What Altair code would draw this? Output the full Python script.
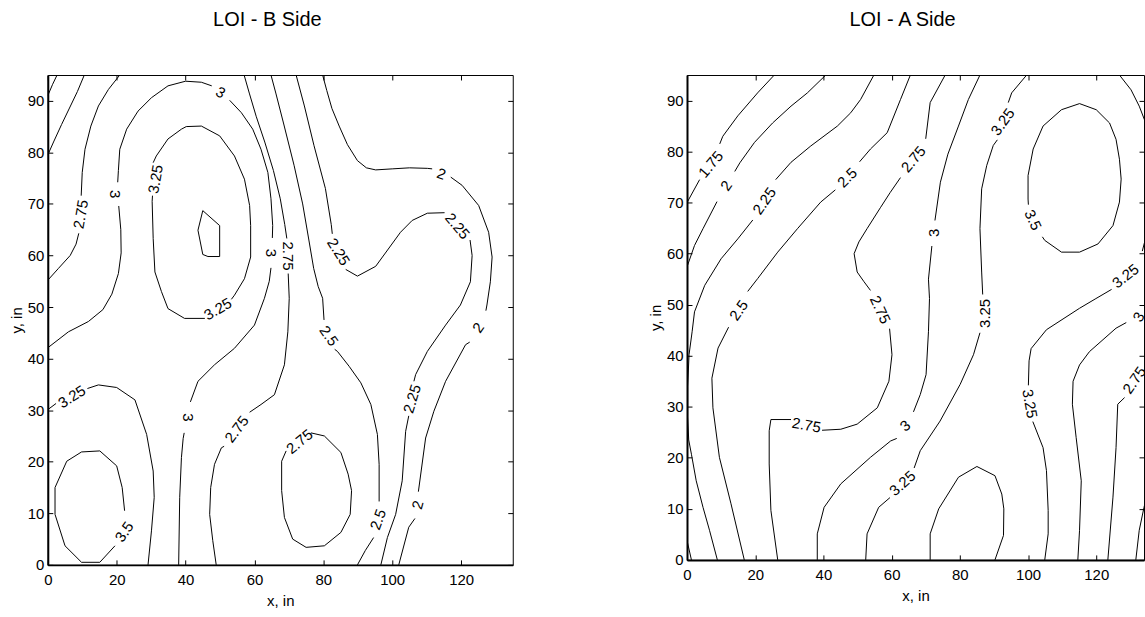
import altair as alt
import pandas as pd

FONT = "Liberation Sans"

X_TICKS = [0, 20, 40, 60, 80, 100, 120]
Y_TICKS = [0, 10, 20, 30, 40, 50, 60, 70, 80, 90]

# ---------------- LOI - B Side : contour polylines (x, y in inches) ----------------
B_c225_corner = [[(0, 91), (1.4, 93.2), (2.7, 95)]]
B_c250_left = [[(10.6, 95), (8.6, 91.8), (6.3, 88.6), (4.0, 85.4), (1.8, 82.2), (0, 79.5)]]
B_c275_left = [[(20.9, 95), (17.6, 92.2), (14.7, 89), (12.5, 85.1), (10.8, 80.6), (10.0, 76.1), (9.7, 71.6)],
                [(9.0, 64.3), (8.2, 62.2), (6.5, 60.0), (3.1, 57.5), (0, 55.2)]]
B_c300 = [[(0, 42.1), (6, 45.2), (11.8, 47.2), (16, 49.5), (18.6, 52.5), (20.5, 56.5), (21.3, 60.5), (21.2, 65), (20.6, 69.6)],
          [(20.3, 74.2), (20.5, 76.5), (20.9, 80.6), (22.9, 84.5), (26.2, 88), (30.1, 90.6), (34.9, 92.9), (40, 93.8), (44.6, 93.6), (47.6, 92.9)],
          [(52.8, 90.1), (56.2, 87.7), (59.5, 84.5), (61.9, 80.6), (63.9, 76.1), (64.8, 71), (65.3, 65.8), (65.2, 63.4)],
          [(64.8, 57.6), (64.3, 55), (62.9, 51.7), (60, 46.5), (54.2, 42), (48.4, 38.8), (43.6, 35.6), (41.4, 31.6)],
          [(39.6, 25.6), (39.3, 24.5), (38.8, 20.8), (38.3, 13.1), (38, 0)]]
B_c325_oval = [[(30.6, 78), (31.5, 79.3), (34.9, 82.6), (38.8, 84.5), (40.2, 85), (44.6, 85.1), (49.9, 83.2), (54.2, 79.3),
                (57.1, 74.8), (58.6, 69.7), (58.9, 65.8), (58.9, 59.7), (57.1, 55.5), (54.2, 52.3), (53.3, 51.5)],
               [(45.6, 47.8), (39.7, 47.8), (34.9, 49.7), (33, 53), (31.1, 56.8), (30.6, 63.3), (30.3, 70.5), (30.4, 71.6)]]
B_c350_peak = [[(45, 68.7), (49.9, 65.8), (49.9, 59.8), (46.5, 59.8), (45, 60.2), (43.6, 64.9), (45, 68.7)]]
B_c275_right = [[(57, 95), (58.5, 91.5), (60.5, 87), (63, 82), (65.5, 76.5), (67.5, 71), (68.8, 66), (69.4, 63.3)],
                [(69.8, 56.5), (70.1, 51.7), (69.7, 45.2), (68.7, 38.8), (65.8, 33), (61.9, 31.1), (58.6, 29.6)],
                [(51.2, 23.0), (50.4, 22.7), (48.4, 19.5), (47.3, 15), (47, 9.8), (47.9, 4.7), (48.9, 0)]]
B_c250_right = [[(64.8, 95), (66.2, 91.5), (68.5, 85.5), (71.5, 77.5), (74, 70), (75.8, 63), (77.2, 57.5), (78.5, 54), (79.8, 51.7), (80.2, 47.5)],
                [(83.3, 41.8), (84.1, 41.4), (87.5, 38.5), (90.9, 35.3), (93.8, 31.1), (95.7, 25.3), (96.2, 19.5), (96.2, 12.3)],
                [(94.6, 5.3), (92.2, 2.8), (89.9, 0)]]
B_c225_right = [[(72.1, 95), (74.5, 89), (77.3, 81.3), (80.6, 73), (82.3, 66), (82.6, 64.2)],
                [(86.5, 57.3), (89.9, 56), (95.2, 57.9), (102.4, 64.5), (105.8, 66.8), (110.2, 68.2), (115.2, 68.3)],
                [(122.6, 63), (123.2, 60), (122.7, 54.9), (119.8, 50.4), (115.5, 46.5), (110.2, 41.4), (106.8, 36.9), (106.3, 35.6)],
                [(104.8, 28.9), (103.9, 25.9), (102.9, 16.3), (101, 9.8), (98.6, 5.3), (96.7, 0)]]
B_c200 = [[(79.8, 95), (81, 92), (82.5, 88.5), (84.6, 85.1), (87, 81.5), (89.9, 78.4), (92.5, 77), (95.2, 76.6), (100, 76.8), (105, 77), (110.2, 76.9), (111.6, 76.8)],
          [(117, 75.2), (120.3, 73.6), (125.1, 69.7), (128, 64.5), (129, 59.7), (128.5, 54.9), (127.5, 50.4), (127.2, 49.3)],
          [(122.5, 43.2), (121.3, 42.7), (115.5, 35.6), (112.1, 29.8), (109.7, 24.6), (107.6, 14.2)],
          [(106.6, 9.0), (104.8, 7.3), (101.9, 0)]]
B_c275_oval = [[(76.4, 25.6), (80.3, 25), (85.1, 21.8), (87.2, 17.6), (88.2, 14.4), (87.8, 9.8), (85.1, 6.3), (80.3, 3.7),
                (75, 3.4), (71.1, 5), (68.7, 9.2), (67.9, 14.4), (67.9, 20.1), (69.2, 22.1)]]
B_c350_bl = [[(19.5, 3.7), (15.1, 0.5), (9.8, 0.5), (5, 3.7), (2.1, 9.8), (2.1, 15), (5.5, 20.1), (9.8, 21.9), (15.1, 22.1),
              (20, 19.2), (21.6, 15), (22.3, 10.5)]]
B_c325_bl = [[(0, 30.1), (2.4, 31.3)],
             [(11.5, 34.2), (14.7, 34.9), (20, 34.4), (25.3, 32), (28.7, 25.3), (30.6, 18.2), (30.9, 13.1), (30.1, 6.6), (29.1, 0)]]

B_contours = [B_c225_corner, B_c250_left, B_c275_left, B_c300, B_c325_oval, B_c350_peak, B_c275_right,
              B_c250_right, B_c225_right, B_c200, B_c275_oval, B_c350_bl, B_c325_bl]

B_label_text = ["2.75", "3", "3.25", "3", "3.25", "3", "2.75", "2.25", "2", "2.25", "2", "2.5",
                "2.25", "2.5", "2", "2.75", "2.75", "3", "3.5", "3.25"]
B_label_x = [9.6, 19.6, 31.3, 50.2, 49.4, 64.9, 69.7, 84.4, 114.3, 118.9, 125.0, 81.6,
             105.8, 95.9, 107.4, 73.1, 54.9, 40.6, 22.2, 7.0]
B_label_y = [68.0, 71.9, 74.8, 91.6, 49.6, 60.5, 59.9, 60.7, 75.8, 65.7, 46.0, 44.4,
             32.2, 8.8, 11.6, 23.9, 26.3, 28.6, 6.4, 32.6]
B_label_angle = [280, 90, 280, 30, 330, 90, 90, 58, 20, 50, 305, 55,
                 287, 290, 285, 321, 307, 90, 305, 328]

# ---------------- LOI - A Side : contour polylines ----------------
A_c175 = [[(25.6, 95), (20.7, 91.5), (14.9, 87), (10.5, 83), (9.6, 81.5)],
          [(3.7, 74.5), (0, 70)]]
A_c200 = [[(40.7, 95), (35.3, 91.5), (30.5, 88.9), (25.1, 85.6), (19.8, 81.8), (15.5, 77.8), (14, 76.1)],
          [(8.8, 70.2), (4.7, 64.9), (2.2, 61.6), (0, 57.4)]]
A_c200_corner = [[(0, 3.8), (1.3, 0)]]
A_c225 = [[(54.8, 95), (50.9, 90.2), (48, 87.6), (44.1, 85), (36.3, 81.1), (30.5, 77.9), (26, 74.5)],
          [(19.3, 66.6), (14.9, 62.9), (10, 59), (5.2, 53.8), (2.2, 48.6), (1.5, 44.7), (0.6, 40.2), (0.2, 34), (0.2, 28),
           (0.5, 23.5), (1.3, 20.7), (2.7, 15.5), (4.7, 10.3), (6.6, 5.8), (8.9, 0)]]
A_c250 = [[(65.5, 95), (62.6, 90.2), (58.7, 83.7), (53.8, 80.5), (50.6, 78)],
          [(43.5, 72.5), (39.2, 70.1), (32.4, 64.9), (26.6, 60.3), (20.7, 55.1), (17.8, 52.6)],
          [(12.2, 45.6), (9.1, 41.5), (7.3, 35.6), (7.6, 29.8), (9.5, 20.1), (12.9, 11), (16.8, 0)]]
A_c275 = [[(75.7, 95), (71.3, 89.6), (70, 82.5)],
          [(62.6, 74.9), (59.6, 72), (56.7, 69), (52.8, 64.9), (50.4, 62.3), (49, 60), (49.9, 56.4), (51.9, 54.5), (53.8, 52.8)],
          [(59.4, 45.3), (60.1, 40.2), (59.2, 35), (55.8, 29.8), (49.9, 26.6), (45.1, 25.6), (39.6, 25.4)],
          [(30.5, 27.5), (24.6, 27.5), (24.1, 25.3), (24.1, 18.8), (24.6, 9.7), (26.6, 0)]]
A_c300 = [[(85.9, 95), (82.5, 90.2), (79.6, 85), (76.5, 79.5), (74.3, 74), (72.7, 66.5)],
          [(71.8, 61.5), (70.8, 55), (71.1, 51.2), (70.8, 44.7), (70.1, 36.3), (68.4, 32.4), (66.4, 29)],
          [(61.5, 23.8), (59.7, 23.3), (53.8, 20.1), (45.1, 14.9), (40.2, 10.3), (38.2, 5.1), (38.2, 0)]]
A_c325_mid = [[(99.6, 95), (95.2, 91.5), (94.2, 89.6)],
              [(91, 82.3), (89.8, 81.2), (87.9, 77.3), (86.4, 72.7), (85.9, 64.9), (86.4, 56.4), (86.7, 52)],
              [(85.9, 44.5), (84, 40.2), (80.1, 34.4), (74.2, 27.2), (68.4, 21.4), (66.6, 18)],
              [(59.5, 12.2), (56.2, 10.3), (52.8, 5.1), (52.4, 0)]]
A_c350_bump = [[(71.3, 0), (71.3, 5.1), (73.8, 10), (79.6, 16.2), (85, 18.3), (90.3, 16.5), (92.3, 12.9), (92.9, 10), (92.8, 4.8), (90.3, 0)]]
A_c325_right = [[(126.8, 95), (130.2, 92.1), (132.6, 88.9), (134.1, 86.3), (135.6, 80), (135.6, 66), (133.5, 60.5)],
                [(124.5, 53), (119.9, 51.2), (115.1, 49.3), (105.4, 45.1), (100.9, 41.4), (100.3, 39), (100.1, 34.2)],
                [(101.4, 27.1), (104.4, 22), (105.4, 17.5), (105.9, 9.7), (105.9, 5.1), (104.9, 0)]]
A_c350_oval = [[(104.2, 63.3), (104.9, 62.6), (109.8, 60.3), (115.1, 60.3), (120.5, 61.9), (124.9, 65.5), (126.8, 70.1), (127.3, 74.6),
                (126.8, 78.5), (125.8, 82.4), (123.9, 85.6), (120, 88.2), (115.1, 89.4), (109.8, 88.2), (104.4, 85), (101.5, 80.5),
                (100, 75.3), (100, 70.7), (100.1, 69.6)]]
A_c300_right = [[(114.6, 0), (115.1, 5.8), (115.6, 15.5), (114.1, 24), (113, 30.5), (113.2, 35), (115.1, 38.2), (118, 40.8), (125.8, 45.4), (128.8, 46.5)],
                [(136, 49), (137, 50)]]
A_c275_right = [[(123.4, 0), (124.9, 12.3), (125.8, 22), (126.3, 30.5), (128.3, 31.8)],
                [(134.2, 38.6), (136, 41)]]
A_c250_right = [[(131.6, 0), (132.6, 5.8), (134, 10.3), (135, 13)]]

A_contours = [A_c175, A_c200, A_c200_corner, A_c225, A_c250, A_c275, A_c300, A_c325_mid, A_c350_bump,
              A_c325_right, A_c350_oval, A_c300_right, A_c275_right, A_c250_right]

A_label_text = ["1.75", "2", "2.25", "2.5", "2.5", "2.75", "2.75", "2.75", "3", "3", "3.25", "3.25", "3.25",
                "3.25", "3.25", "3.5", "3", "2.75"]
A_label_x = [7.0, 11.5, 22.7, 47.0, 15.2, 66.4, 56.6, 35.0, 72.3, 64.0, 92.6, 87.4, 63.2,
             128.6, 100.5, 101.4, 132.5, 131.2]
A_label_y = [77.5, 73.3, 70.3, 74.9, 48.9, 78.5, 49.0, 26.4, 64.1, 26.3, 85.8, 48.3, 15.0,
             55.6, 30.6, 66.6, 47.6, 35.2]
A_label_angle = [310, 305, 305, 315, 305, 310, 65, 10, 270, 320, 306, 270, 318,
                 322, 80, 65, 300, 305]


def lines_frame(contours):
    rows = []
    sid = 0
    for contour in contours:
        for seg in contour:
            for i, (x, y) in enumerate(seg):
                rows.append({"seg": sid, "i": i, "x": x, "y": y})
            sid += 1
    return pd.DataFrame(rows)


def panel(contours, ltext, lx, ly, lang, title, width, height, xmax):
    lines = lines_frame(contours)
    labs = pd.DataFrame({"t": ltext, "x": lx, "y": ly, "a": lang})
    xs = alt.Scale(domain=[0, xmax], nice=False, zero=False)
    ys = alt.Scale(domain=[0, 95], nice=False, zero=False)

    ax_bottom = alt.Axis(orient="bottom", values=X_TICKS, offset=-5, tickSize=5, domain=False,
                         labelPadding=8, labelFlush=False, title="x, in", titlePadding=6, grid=False)
    ax_left = alt.Axis(orient="left", values=Y_TICKS, offset=-5, tickSize=5, domain=False,
                       labelPadding=4, labelFlush=False, title="y, in", titlePadding=3, grid=False)
    ax_top = alt.Axis(orient="top", values=X_TICKS, offset=-5, tickSize=5, domain=False,
                      labels=False, title=None, grid=False)
    ax_right = alt.Axis(orient="right", values=Y_TICKS, offset=-5, tickSize=5, domain=False,
                        labels=False, title=None, grid=False)
    ax_fx = alt.Axis(orient="bottom", domain=True, domainWidth=2, ticks=False, labels=False, title=None, grid=False)
    ax_fy = alt.Axis(orient="left", domain=True, domainWidth=2, ticks=False, labels=False, title=None, grid=False)

    line_layer = alt.Chart(lines).mark_line(color="black", strokeWidth=1, clip=True).encode(
        x=alt.X("x:Q", scale=xs, axis=ax_bottom),
        y=alt.Y("y:Q", scale=ys, axis=ax_left),
        detail="seg:N",
        order="i:Q",
    )
    text_layer = alt.Chart(labs).mark_text(font=FONT, fontSize=15, color="black", clip=True).encode(
        x=alt.X("x:Q", scale=xs, axis=ax_top),
        y=alt.Y("y:Q", scale=ys, axis=ax_right),
        text="t:N",
        angle=alt.Angle("a:Q", scale=None),
    )
    frame_layer = alt.Chart(labs).mark_point(opacity=0, clip=True).encode(
        x=alt.X("x:Q", scale=xs, axis=ax_fx),
        y=alt.Y("y:Q", scale=ys, axis=ax_fy),
    )
    return alt.layer(line_layer, text_layer, frame_layer).resolve_axis(
        x="independent", y="independent"
    ).properties(
        width=width,
        height=height,
        title=alt.TitleParams(title, font=FONT, fontSize=20, fontWeight="normal", anchor="middle",
                              offset=45, dx=-13, color="black"),
    )


left = panel(B_contours, B_label_text, B_label_x, B_label_y, B_label_angle, "LOI - B Side", 467, 492, 135)
right = panel(A_contours, A_label_text, A_label_x, A_label_y, A_label_angle, "LOI - A Side", 459, 487, 134)

chart = alt.hconcat(left, right, spacing=134).properties(
    padding={"left": 8, "top": 8, "right": 0, "bottom": 5},
    background="white",
).configure_view(stroke="black", strokeWidth=1).configure_axis(
    labelFont=FONT, labelFontSize=15, labelColor="black",
    titleFont=FONT, titleFontSize=15, titleFontWeight="normal", titleColor="black",
    tickColor="black", domainColor="black", tickWidth=1,
)

chart.save("out.html", embed_options={"renderer": "svg", "actions": False})
